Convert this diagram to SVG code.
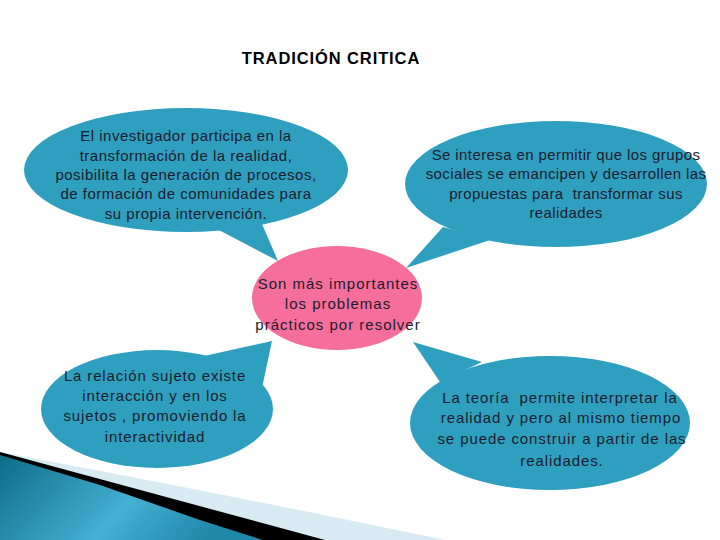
<svg xmlns="http://www.w3.org/2000/svg" width="720" height="540" viewBox="0 0 720 540">
<defs>
<style>
.b{fill:#2f9fc0}
.p{fill:#f66e9c}
.t{font-family:"Liberation Sans",Arial,sans-serif;font-size:15px;letter-spacing:0.4px;fill:#1c1c2c;text-anchor:middle}
.h{font-family:"Liberation Sans",Arial,sans-serif;font-size:16.5px;letter-spacing:0.9px;font-weight:bold;fill:#000}
#n1 .t{letter-spacing:0.5px}
#n3 .t{letter-spacing:1px}
#n4 .t{letter-spacing:0.85px}
#n5 .t{letter-spacing:0.9px}
</style>
<linearGradient id="g" x1="0" y1="0" x2="1" y2="0.3">
<stop offset="0" stop-color="#0d6c88"/>
<stop offset="0.6" stop-color="#45b0d3"/>
<stop offset="1" stop-color="#1f87a8"/>
</linearGradient>
</defs>
<rect width="720" height="540" fill="#fff"/>
<g id="deco">
<path d="M0,452 Q230,495 445,540 L0,540 Z" fill="#d9ebf2"/>
<path d="M0,452 L325,540 L0,540 Z" fill="#000"/>
<path d="M0,455 L100,485 L200,520 L263,540 L0,540 Z" fill="url(#g)"/>
</g>
<text class="h" x="331" y="64" text-anchor="middle">TRADICIÓN CRITICA</text>
<g id="connectors">
<polygon class="b" points="215,228 262,224 278,261"/>
<polygon class="b" points="443,227 490,240 406,268"/>
<polygon class="b" points="195,358 272,341 262,388"/>
<polygon class="b" points="413,342 482,362 440,382"/>
</g>
<g id="n1">
<ellipse class="b" cx="186" cy="170" rx="162" ry="62"/>
<text class="t" x="186" y="141">El investigador participa en la</text>
<text class="t" x="186" y="161">transformación de la realidad,</text>
<text class="t" x="186" y="180">posibilita la generación de procesos,</text>
<text class="t" x="186" y="199">de formación de comunidades para</text>
<text class="t" x="186" y="219">su propia intervención.</text>
</g>
<g id="n2">
<ellipse class="b" cx="556" cy="184" rx="151" ry="63"/>
<text class="t" x="566" y="160">Se interesa en permitir que los grupos</text>
<text class="t" x="566" y="179">sociales se emancipen y desarrollen las</text>
<text class="t" x="566" y="199" xml:space="preserve">propuestas para  transformar sus</text>
<text class="t" x="566" y="218">realidades</text>
</g>
<g id="n3">
<ellipse class="p" cx="337" cy="298" rx="85" ry="52"/>
<text class="t" x="338" y="289">Son más importantes</text>
<text class="t" x="338" y="309">los problemas</text>
<text class="t" x="338" y="330">prácticos por resolver</text>
</g>
<g id="n4">
<ellipse class="b" cx="157" cy="409" rx="116" ry="59"/>
<text class="t" x="155" y="381">La relación sujeto existe</text>
<text class="t" x="155" y="401">interacción y en los</text>
<text class="t" x="155" y="421">sujetos , promoviendo la</text>
<text class="t" x="155" y="442">interactividad</text>
</g>
<g id="n5">
<ellipse class="b" cx="550" cy="423" rx="140" ry="67"/>
<text class="t" x="560" y="403" xml:space="preserve">La teoría  permite interpretar la</text>
<text class="t" x="561" y="423">realidad y pero al mismo tiempo</text>
<text class="t" x="562" y="444">se puede construir a partir de las</text>
<text class="t" x="562" y="466">realidades.</text>
</g>
</svg>
